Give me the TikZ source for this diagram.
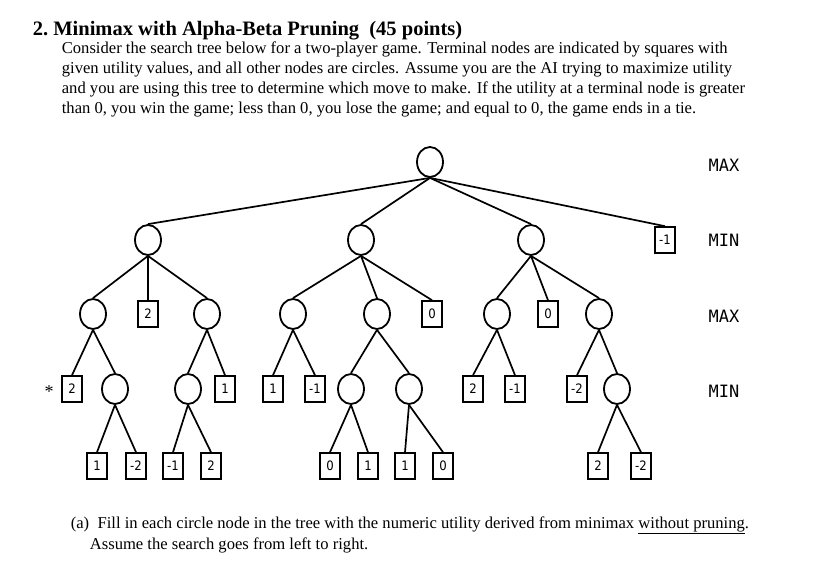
\documentclass[tikz,border=0pt]{standalone}
\usepackage{fontspec}
\setmainfont{Liberation Serif}
\newfontfamily\lblfont{DejaVu Sans Condensed}
\newfontfamily\lvlfont{DejaVu Sans Mono}
\usetikzlibrary{shapes.geometric}
\begin{document}
\begin{tikzpicture}[x=1pt,y=-1pt,
  circ/.style={draw,line width=1.8pt,ellipse,minimum width=26pt,minimum height=30pt,inner sep=0pt},
  term/.style={draw,line width=1.6pt,minimum width=20pt,minimum height=26pt,inner sep=0pt,font=\lblfont\fontsize{13}{13}\selectfont},
  lvl/.style={font=\lvlfont\fontsize{17}{17}\selectfont},
  txt/.style={anchor=base west,inner sep=0pt,font=\fontsize{16.6}{19}\selectfont},
  every path/.style={line width=1.7pt}]
\useasboundingbox (0,0) rectangle (822,561);
% text
\node[anchor=base west,inner sep=0pt,font=\bfseries\fontsize{20.5}{23}\selectfont] (title) at (32,36) {2.\ Minimax with Alpha-Beta Pruning\ \ (45 points)};
\node[txt] (l1) at (61,54) {Consider the search tree below for a two-player game. Terminal nodes are indicated by squares with};
\node[txt] (l2) at (61,74) {given utility values, and all other nodes are circles. Assume you are the AI trying to maximize utility};
\node[txt] (l3) at (61,94) {and you are using this tree to determine which move to make. If the utility at a terminal node is greater};
\node[txt] (l4) at (61,114) {than 0, you win the game; less than 0, you lose the game; and equal to 0, the game ends in a tie.};
\node[txt] (f1) at (70,528) {(a)\ \ Fill in each circle node in the tree with the numeric utility derived from minimax \underline{without pruning}.};
\node[txt] (f2) at (89,549) {Assume the search goes from left to right.};
% level labels
\node[lvl] (m0) at (724,165) {MAX};
\node[lvl] (m1) at (724,240) {MIN};
\node[lvl] (m2) at (724,316) {MAX};
\node[lvl] (m3) at (724,391) {MIN};
% nodes
\node[circ] (r) at (430,162) {};
\node[circ] (a) at (148,240) {};
\node[circ] (b) at (361,240) {};
\node[circ] (c) at (531,240) {};
\node[term] (d) at (665,240) {-1};
\node[circ] (a1) at (93,314) {};
\node[term] (a2) at (148,314) {2};
\node[circ] (a3) at (207,314) {};
\node[circ] (b1) at (293,314) {};
\node[circ] (b2) at (377,314) {};
\node[term] (b3) at (432,314) {0};
\node[circ] (c1) at (497,314) {};
\node[term] (c2) at (548,314) {0};
\node[circ] (c3) at (599,314) {};
\node[term] (a11) at (72,389) {2};
\node[circ] (a12) at (115,389) {};
\node[circ] (a31) at (188,389) {};
\node[term] (a32) at (225,389) {1};
\node[term] (b11) at (273,389) {1};
\node[term] (b12) at (315,389) {-1};
\node[circ] (b21) at (351,389) {};
\node[circ] (b22) at (409,389) {};
\node[term] (c11) at (473,389) {2};
\node[term] (c12) at (515,389) {-1};
\node[term] (c31) at (577,389) {-2};
\node[circ] (c32) at (617,389) {};
\node[term] (e1) at (97,466) {1};
\node[term] (e2) at (136,466) {-2};
\node[term] (e3) at (173,466) {-1};
\node[term] (e4) at (211,466) {2};
\node[term] (e5) at (330,466) {0};
\node[term] (e6) at (368,466) {1};
\node[term] (e7) at (405,466) {1};
\node[term] (e8) at (443,466) {0};
\node[term] (e9) at (598,466) {2};
\node[term] (e10) at (641,466) {-2};
\node[font=\fontsize{18}{18}\selectfont] (star) at (49,392) {*};
% edges
\foreach \p/\q in {r/a,r/b,r/c,r/d,a/a1,a/a2,a/a3,b/b1,b/b2,b/b3,c/c1,c/c2,c/c3,
  a1/a11,a1/a12,a3/a31,a3/a32,b1/b11,b1/b12,b2/b21,b2/b22,c1/c11,c1/c12,c3/c31,c3/c32,
  a12/e1,a12/e2,a31/e3,a31/e4,b21/e5,b21/e6,b22/e7,b22/e8,c32/e9,c32/e10}
  \draw (\p.south) -- (\q.north);
\end{tikzpicture}
\end{document}
